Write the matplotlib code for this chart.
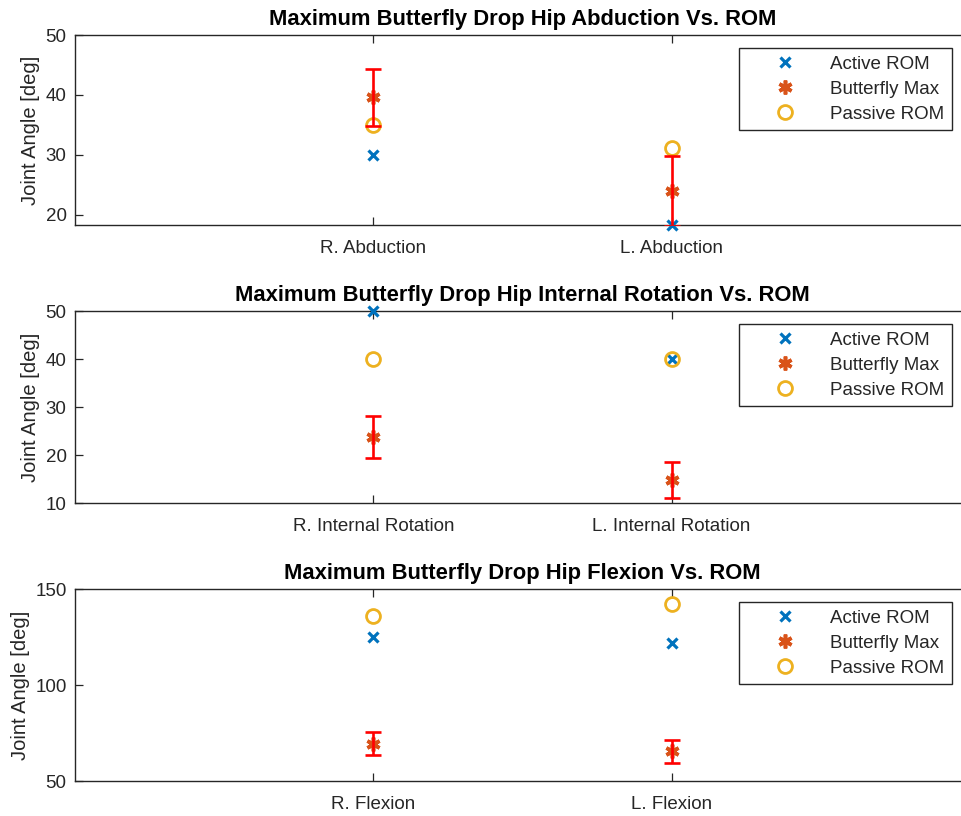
import matplotlib.pyplot as plt
import numpy as np

plt.rcParams['font.family'] = ['Liberation Sans', 'DejaVu Sans']

active_color = '#0072BD'
butterfly_color = '#D95319'
passive_color = '#EDB120'
axis_color = '#262626'

abduction_labels = ['R. Abduction', 'L. Abduction']
abduction_active = [30.0, 18.3]
abduction_butterfly = [39.6, 24.0]
abduction_err = [4.7, 5.8]
abduction_passive = [35.0, 31.2]

rotation_labels = ['R. Internal Rotation', 'L. Internal Rotation']
rotation_active = [50.0, 40.0]
rotation_butterfly = [23.7, 14.8]
rotation_err = [4.4, 3.8]
rotation_passive = [40.0, 40.0]

flexion_labels = ['R. Flexion', 'L. Flexion']
flexion_active = [124.8, 122.0]
flexion_butterfly = [69.5, 65.5]
flexion_err = [6.1, 6.0]
flexion_passive = [136.0, 142.0]

fig = plt.figure(figsize=(9.62, 8.16), dpi=100)
W, H = 962, 816


def px_axes(left, top, right, bottom):
    return fig.add_axes([left / W, 1 - bottom / H, (right - left) / W, (bottom - top) / H])


def plot_panel(ax, title, labels, active, butterfly, err, passive, ylim, yticks):
    xs = np.arange(1, len(labels) + 1)
    ax.plot(xs, active, linestyle='none', marker='x', ms=6.5, mew=2.3, color=active_color, label='Active ROM',
            clip_on=False, zorder=3)
    ax.plot(xs, butterfly, linestyle='none', marker=(6, 2, 0), ms=10, mew=2.6, color=butterfly_color,
            label='Butterfly Max', clip_on=False, zorder=3)
    ax.plot(xs, passive, linestyle='none', marker='o', ms=10, mew=2.0, mfc='none', color=passive_color,
            label='Passive ROM', clip_on=False, zorder=3)
    ax.errorbar(xs, butterfly, yerr=err, fmt='none', ecolor='red', elinewidth=1.9, capsize=5.5, capthick=1.9,
                zorder=4)

    ax.set_xlim(0, 3)
    ax.set_ylim(*ylim)
    ax.set_xticks(xs)
    ax.set_xticklabels(labels)
    ax.set_yticks(yticks)
    ax.tick_params(direction='in', length=6, width=0.9, top=True, right=True, colors=axis_color,
                   labelsize=13.5)
    ax.tick_params(axis='x', pad=11)
    ax.tick_params(axis='y', pad=6)
    for spine in ax.spines.values():
        spine.set_color(axis_color)
        spine.set_linewidth(1.0)
    ax.set_title(title, fontsize=15.8, fontweight='bold', color='black', pad=7)
    ax.set_ylabel('Joint Angle [deg]', fontsize=14.5, color=axis_color, labelpad=4)

    # legend box sits just inside the upper right corner
    bb = ax.get_position()
    leg = ax.legend(loc='upper right', bbox_to_anchor=(952 / W, bb.y1 - 13 / H),
                    bbox_transform=fig.transFigure, fontsize=13.5, fancybox=False, framealpha=1,
                    edgecolor=axis_color, borderpad=0.4, handlelength=4.1, handletextpad=0.35,
                    labelspacing=0.42, borderaxespad=0)
    leg.get_frame().set_linewidth(1.0)
    for text in leg.get_texts():
        text.set_color(axis_color)


ax_top = px_axes(75, 35, 970, 225)
ax_mid = px_axes(75, 311, 970, 503)
ax_bot = px_axes(75, 589, 970, 781)

plot_panel(ax_top, 'Maximum Butterfly Drop Hip Abduction Vs. ROM', abduction_labels, abduction_active,
           abduction_butterfly, abduction_err, abduction_passive, (18.3, 50), [20, 30, 40, 50])
plot_panel(ax_mid, 'Maximum Butterfly Drop Hip Internal Rotation Vs. ROM', rotation_labels, rotation_active,
           rotation_butterfly, rotation_err, rotation_passive, (10, 50), [10, 20, 30, 40, 50])
plot_panel(ax_bot, 'Maximum Butterfly Drop Hip Flexion Vs. ROM', flexion_labels, flexion_active,
           flexion_butterfly, flexion_err, flexion_passive, (50, 150), [50, 100, 150])

fig.savefig('out.png', dpi=100)
